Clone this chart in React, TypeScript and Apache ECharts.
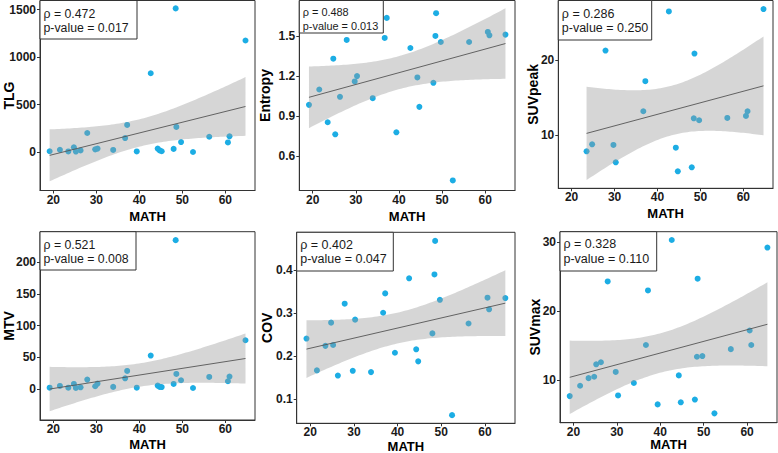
import React, { useEffect, useRef } from "react";
import * as echarts from "echarts";

// ---------- data ----------
const MATH = [19.14, 21.53, 23.48, 24.78, 25.24, 26.33, 27.89, 29.74, 30.28, 33.92, 36.7, 37.17, 39.4, 42.65, 44.27, 44.73, 45.2, 47.98, 48.45, 48.61, 49.7, 52.48, 56.26, 60.6, 60.97, 64.69];

const TLG = [8, 24, 6, 49, 5, 17, 200, 28, 36, 22, 147, 285, 6, 829, 36, 17, 8, 33, 1512, 264, 105, 0, 161, 101, 165, 1174];
const ENTROPY = [0.985, 1.1, 0.855, 1.33, 0.765, 1.045, 1.47, 1.16, 1.2, 1.035, 1.485, 1.635, 0.78, 1.41, 1.19, 0.97, null, 1.15, 1.5, 1.67, 1.455, 0.42, 1.455, 1.53, 1.505, 1.51];
const SUVPEAK = [null, null, 7.82, 8.76, null, null, 21.24, 8.67, 6.36, null, 13.16, 17.16, null, 26.44, 8.31, 5.16, null, 5.69, 12.22, 20.84, 11.96, null, 12.27, 12.53, 13.16, 26.76];
const MTV = [2, 4.7, 2, 7.9, 1.6, 2.6, 14.7, 4.2, 8.4, 3.2, 16.8, 28.4, 2, 52.6, 5.3, 3.2, 3, 7.9, 234.7, 23.7, 13.7, 1.5, 18.9, 12.1, 19.5, 76.8];
const COV = [0.241, 0.167, 0.224, 0.278, 0.226, 0.155, 0.322, 0.166, 0.285, 0.163, 0.301, 0.346, 0.208, 0.381, 0.216, 0.188, null, 0.253, 0.39, 0.468, 0.331, 0.063, 0.276, 0.336, 0.309, 0.335];
const SUVMAX = [7.7, 9.2, 10.3, 10.5, 12.3, 12.6, 24.3, 11.2, 7.8, 9.6, 15.1, 23.0, 6.5, 30.3, 10.7, 6.8, null, 7.2, 13.4, 24.7, 13.5, 5.2, 14.5, 17.2, 15.1, 29.2];

const Y_NAMES = ["TLG", "Entropy", "SUVpeak", "MTV", "COV", "SUVmax"];
const Y_VALUES = [TLG, ENTROPY, SUVPEAK, MTV, COV, SUVMAX];
const RHO = ["0.472", "0.488", "0.286", "0.521", "0.402", "0.328"];
const PVAL = ["0.017", "0.013", "0.250", "0.008", "0.047", "0.110"];

const X_TICKS = [20, 30, 40, 50, 60];
const Y_TICKS = [
  [0, 500, 1000, 1500],
  [0.6, 0.9, 1.2, 1.5],
  [10, 20],
  [0, 50, 100, 150, 200],
  [0.1, 0.2, 0.3, 0.4],
  [10, 20, 30],
];
const X_RANGE = [16.9, 66.9];
const Y_RANGES = [
  [-405, 1595],
  [0.345, 1.765],
  [2.9, 27.9],
  [-49, 248],
  [0.044, 0.488],
  [3.85, 31.5],
];

// 97.5% Student t quantiles for the degrees of freedom used
const T975: Record<number, number> = { 16: 2.1199, 23: 2.0687, 24: 2.0639 };

// ---------- layout (pixels) ----------
const GRIDS = [
  { left: 40, top: 0.5, width: 215, height: 190 },
  { left: 299.3, top: 0.5, width: 215.7, height: 190 },
  { left: 558.3, top: 0.5, width: 214.7, height: 187.8 },
  { left: 40, top: 231.7, width: 215, height: 188.3 },
  { left: 296.7, top: 232.3, width: 218.3, height: 191 },
  { left: 560, top: 231.7, width: 217, height: 191 },
];
const BOXES = [
  { w: 97, h: 38.5, fs: 12.3, l1: 13, l2: 27.3 },
  { w: 84, h: 32.5, fs: 10.9, l1: 11, l2: 25.3 },
  { w: 93.4, h: 39.5, fs: 12.5, l1: 13, l2: 27.5 },
  { w: 96, h: 38.3, fs: 12.3, l1: 13.3, l2: 27.6 },
  { w: 96.6, h: 38.7, fs: 12.5, l1: 12.3, l2: 26.3 },
  { w: 96.7, h: 39.3, fs: 12.5, l1: 12.5, l2: 26.8 },
];
const Y_NAME_GAPS = [24.5, 27, 18, 24.5, 22.5, 18];
const X_NAME_GAPS = [19, 19, 19, 18, 16.5, 15.5];

const FONT = "'Liberation Sans', Arial, Helvetica, sans-serif";
const POINT_COLOR = "#1cade4";

function fitBand(xs: number[], ys: number[]) {
  const n = xs.length;
  const mx = xs.reduce((a, b) => a + b, 0) / n;
  const my = ys.reduce((a, b) => a + b, 0) / n;
  let sxx = 0, sxy = 0;
  for (let i = 0; i < n; i++) {
    sxx += (xs[i] - mx) * (xs[i] - mx);
    sxy += (xs[i] - mx) * (ys[i] - my);
  }
  const b = sxy / sxx;
  const a = my - b * mx;
  let sse = 0;
  for (let i = 0; i < n; i++) {
    const r = ys[i] - (a + b * xs[i]);
    sse += r * r;
  }
  const s = Math.sqrt(sse / (n - 2));
  const t = T975[n - 2] ?? 2.07;
  const xmin = Math.min(...xs);
  const xmax = Math.max(...xs);
  const band: number[][] = [];
  const steps = 80;
  for (let k = 0; k < steps; k++) {
    const x = xmin + ((xmax - xmin) * k) / (steps - 1);
    const yh = a + b * x;
    const se = s * Math.sqrt(1 / n + ((x - mx) * (x - mx)) / sxx);
    band.push([x, yh - t * se, yh + t * se]);
  }
  return { line: [[xmin, a + b * xmin], [xmax, a + b * xmax]], band };
}

export default function App() {
  const ref = useRef<HTMLDivElement>(null);
  useEffect(() => {
    if (!ref.current) return;
    const chart = echarts.init(ref.current, undefined, { renderer: "svg" });
    const grid: any[] = [];
    const xAxis: any[] = [];
    const yAxis: any[] = [];
    const series: any[] = [];
    const graphic: any[] = [];

    Y_NAMES.forEach((name, i) => {
      const g = GRIDS[i];
      grid.push({
        left: g.left, top: g.top, width: g.width, height: g.height,
        show: true, borderColor: "#333", borderWidth: 1, backgroundColor: "#fff",
        containLabel: false, outerBoundsMode: "none",
      });
      xAxis.push({
        gridIndex: i, type: "value", min: X_RANGE[0], max: X_RANGE[1],
        name: "MATH", nameLocation: "middle", nameGap: X_NAME_GAPS[i], nameMoveOverlap: false,
        nameTextStyle: { fontWeight: "bold", fontSize: 13, lineHeight: 13, color: "#000", fontFamily: FONT },
        axisLine: { show: true, onZero: false, lineStyle: { color: "#333", width: 1 } },
        axisTick: { show: true, length: 3, customValues: X_TICKS, lineStyle: { color: "#333" } },
        axisLabel: { customValues: X_TICKS, fontWeight: "bold", fontSize: 12, color: "#1a1a1a", fontFamily: FONT, margin: 3, formatter: (v: number) => String(v) },
        splitLine: { show: false },
      });
      yAxis.push({
        gridIndex: i, type: "value", min: Y_RANGES[i][0], max: Y_RANGES[i][1],
        name, nameLocation: "middle", nameRotate: 90, nameGap: Y_NAME_GAPS[i], nameMoveOverlap: false,
        nameTextStyle: { fontWeight: "bold", fontSize: 14, lineHeight: 14, color: "#000", fontFamily: FONT },
        axisLine: { show: true, onZero: false, lineStyle: { color: "#333", width: 1 } },
        axisTick: { show: true, length: 3, customValues: Y_TICKS[i], lineStyle: { color: "#333" } },
        axisLabel: { customValues: Y_TICKS[i], fontWeight: "bold", fontSize: 12, color: "#1a1a1a", fontFamily: FONT, margin: 4, formatter: (v: number) => String(v) },
        splitLine: { show: false },
      });

      const xs: number[] = [];
      const ys: number[] = [];
      Y_VALUES[i].forEach((v, k) => {
        if (v !== null && v !== undefined) {
          xs.push(MATH[k]);
          ys.push(v as number);
        }
      });
      const pts = xs.map((x, k) => [x, ys[k]]);
      const fit = fitBand(xs, ys);

      series.push({
        type: "scatter", xAxisIndex: i, yAxisIndex: i, data: pts,
        symbolSize: 6, itemStyle: { color: POINT_COLOR, opacity: 1 }, z: 2, silent: true,
      });
      const band = fit.band;
      series.push({
        type: "custom", xAxisIndex: i, yAxisIndex: i, data: [band[0]], z: 3, silent: true,
        renderItem: (params: any, api: any) => {
          const poly: number[][] = [];
          for (let k = 0; k < band.length; k++) poly.push(api.coord([band[k][0], band[k][2]]));
          for (let k = band.length - 1; k >= 0; k--) poly.push(api.coord([band[k][0], band[k][1]]));
          return {
            type: "polygon",
            shape: { points: poly },
            style: { fill: "rgba(153,153,153,0.4)", stroke: "none" },
          };
        },
      });
      series.push({
        type: "line", xAxisIndex: i, yAxisIndex: i, data: fit.line, symbol: "none",
        lineStyle: { color: "#555", width: 0.9 }, z: 4, silent: true,
      });

      const b = BOXES[i];
      graphic.push({
        type: "rect", z: 100, silent: true,
        shape: { x: g.left, y: g.top, width: b.w, height: b.h },
        style: { fill: "#fff", stroke: "#333", lineWidth: 1 },
      });
      graphic.push({
        type: "text", z: 101, silent: true, x: g.left + 3.5, y: g.top + b.l1,
        style: { text: "ρ = " + RHO[i], fontSize: b.fs, fontFamily: FONT, fill: "#1a1a1a", verticalAlign: "middle", align: "left" },
      });
      graphic.push({
        type: "text", z: 101, silent: true, x: g.left + 3.5, y: g.top + b.l2,
        style: { text: "p-value = " + PVAL[i], fontSize: b.fs, fontFamily: FONT, fill: "#1a1a1a", verticalAlign: "middle", align: "left" },
      });
    });

    chart.setOption({
      animation: false,
      backgroundColor: "#fff",
      grid, xAxis, yAxis, series, graphic,
    });
    return () => chart.dispose();
  }, []);
  return <div ref={ref} style={{ position: "absolute", left: 0, top: 0, width: 778, height: 453 }} />;
}
